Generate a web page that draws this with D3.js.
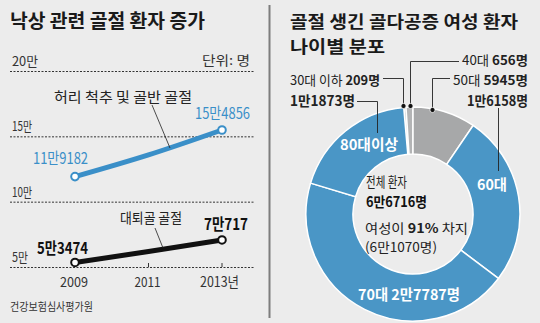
<!DOCTYPE html>
<html><head><meta charset="utf-8">
<script src="https://cdn.jsdelivr.net/npm/d3@7"></script>
<style>
html,body{margin:0;padding:0;background:#ececec;}
svg{display:block;}
text{font-family:"Noto Sans CJK KR","Noto Sans",sans-serif;}
</style></head>
<body>
<script>
// ---- data ----
const years = [2009, 2011, 2013];
const spineValues = [119182, 135800, 154856];   // 허리 척추 및 골반 골절
const femurValues = [53474, 61800, 70717];      // 대퇴골 골절
const yTicks = [200000, 150000, 100000, 50000];
const yTickLabels = ["20만", "15만", "10만", "5만"];
const xTickLabels = ["2009", "2011", "2013년"];

const ageGroups = ["30대 이하", "40대", "50대", "60대", "70대", "80대이상"];
const ageValues = [209, 656, 5945, 16158, 27787, 11873];

const W = 540, H = 323;
const svg = d3.select("body").append("svg").attr("width", W).attr("height", H);
svg.append("rect").attr("width", W).attr("height", H).attr("fill", "#ececec");

function txt(x, y, parts, o = {}) {
  const t = svg.append("text").attr("x", x).attr("y", y)
    .attr("font-size", o.size || 13)
    .attr("fill", o.color || "#222")
    .attr("text-anchor", o.anchor || "start")
    .attr("font-weight", o.weight || 400);
  if (typeof parts === "string") parts = [[parts, o.weight || 400]];
  parts.forEach(p => t.append("tspan").text(p[0]).attr("font-weight", p[1]));
  if (o.width) t.attr("textLength", o.width).attr("lengthAdjust", "spacingAndGlyphs");
  return t;
}

// divider
svg.append("line").attr("x1", 269.5).attr("x2", 269.5).attr("y1", 5).attr("y2", 318)
  .attr("stroke", "#7d7d7d").attr("stroke-width", 2);

// ---- left: line chart ----
const x = d3.scaleLinear().domain([2009, 2013]).range([75, 222]);
const y = d3.scaleLinear().domain([50000, 200000]).range([267, 71]);

txt(10, 28, "낙상 관련 골절 환자 증가", {size: 19, weight: 700, width: 195, color: "#1a1a1a"});

yTicks.forEach((v, i) => {
  svg.append("line").attr("x1", 10).attr("x2", 255).attr("y1", y(v) + 0.5).attr("y2", y(v) + 0.5)
    .attr("stroke", "#333").attr("stroke-width", 1).attr("stroke-dasharray", "2,1.5");
  const lab = yTickLabels[i];
  txt(12, y(v) - 5, lab, {size: 13, width: lab.length === 2 ? 16 : (lab.startsWith("1") ? 20 : 26), color: "#333"});
});
txt(250, 65, "단위: 명", {size: 13, anchor: "end", width: 48, color: "#333"});

// year ticks
years.forEach((yr, i) => {
  if (i > 0) svg.append("line").attr("x1", x(yr)).attr("x2", x(yr)).attr("y1", y(50000) - 4).attr("y2", y(50000))
    .attr("stroke", "#333").attr("stroke-width", 1);
});
txt(x(2009) - 1, 287, xTickLabels[0], {size: 14, anchor: "middle", width: 28, color: "#333"});
txt(x(2011) - 1, 287, xTickLabels[1], {size: 14, anchor: "middle", width: 26, color: "#333"});
txt(200, 287, xTickLabels[2], {size: 14, width: 39, color: "#333"});

const line = d3.line().x((d, i) => x(years[i])).y(d => y(d)).curve(d3.curveMonotoneX);
const blue = "#3a8fc8";
svg.append("path").attr("d", line(spineValues)).attr("fill", "none").attr("stroke", blue)
  .attr("stroke-width", 5).attr("stroke-linecap", "round");
svg.append("path").attr("d", line(femurValues)).attr("fill", "none").attr("stroke", "#111")
  .attr("stroke-width", 5).attr("stroke-linecap", "round");
[[spineValues, blue], [femurValues, "#111"]].forEach(([vals, c]) => {
  [0, vals.length - 1].forEach(i => {
    svg.append("circle").attr("cx", x(years[i])).attr("cy", y(vals[i])).attr("r", 3.8)
      .attr("fill", "#fff").attr("stroke", c).attr("stroke-width", 2);
  });
});

// annotations
txt(54, 102, "허리 척추 및 골반 골절", {size: 14, width: 138, color: "#222"});
svg.append("line").attr("x1", 152).attr("y1", 105).attr("x2", 170).attr("y2", 148).attr("stroke", "#222").attr("stroke-width", 0.8);
txt(120, 223, "대퇴골 골절", {size: 14, width: 62, color: "#222"});
svg.append("line").attr("x1", 155).attr("y1", 228).attr("x2", 163).attr("y2", 248).attr("stroke", "#222").attr("stroke-width", 0.8);

txt(33, 164, "11만9182", {size: 16, width: 55, color: blue});
txt(195, 119, "15만4856", {size: 16, width: 55, color: blue});
txt(37, 254, "5만3474", {size: 16, weight: 700, width: 51, color: "#111"});
txt(204, 230, "7만717", {size: 16, weight: 700, width: 44, color: "#111"});

txt(10, 311, "건강보험심사평가원", {size: 11, width: 83, color: "#333"});

// ---- right: donut ----
txt(290, 28, "골절 생긴 골다공증 여성 환자", {size: 17, weight: 700, width: 228, color: "#1a1a1a"});
txt(290, 53, "나이별 분포", {size: 17, weight: 700, width: 95, color: "#1a1a1a"});

const cx = 413, cy = 214, R = 107, r0 = 60;
const total = d3.sum(ageValues);
const offset = (ageValues[0] + ageValues[1]) / total * 2 * Math.PI;
const pie = d3.pie().sort(null).value(d => d).startAngle(-offset).endAngle(2 * Math.PI - offset);
const arc = d3.arc().innerRadius(r0).outerRadius(R);
const colors = ["#b3b4b5", "#b3b4b5", "#a7a8a9", "#4a96c6", "#4a96c6", "#4a96c6"];
const g = svg.append("g").attr("transform", `translate(${cx},${cy})`);
g.selectAll("path").data(pie(ageValues)).join("path")
  .attr("d", arc).attr("fill", (d, i) => colors[i])
  .attr("stroke", "#fff").attr("stroke-width", 1.5);

// callouts
const callStroke = {stroke: "#222", "stroke-width": 0.9, fill: "none"};
function poly(pts) {
  const p = svg.append("path").attr("d", d3.line()(pts));
  Object.entries(callStroke).forEach(([k, v]) => p.attr(k, v));
}
function dot(px, py) {
  svg.append("circle").attr("cx", px).attr("cy", py).attr("r", 2.6).attr("fill", "#111").attr("stroke", "#fff").attr("stroke-width", 0.8);
}
poly([[383, 78.5], [403.5, 78.5], [403.5, 106]]); dot(403.5, 106);
poly([[459, 61.5], [410.5, 61.5], [410.5, 106]]); dot(410.5, 106);
poly([[450, 78.5], [432.5, 78.5], [432.5, 110]]); dot(432.5, 110);
poly([[498.5, 108], [498.5, 171]]);
poly([[357, 101.5], [377.5, 101.5], [377.5, 133]]);

txt(380, 85, [["30대 이하 ", 400], [String(ageValues[0]) + "명", 700]], {size: 13, anchor: "end", width: 90, color: "#222"});
txt(462, 65, [["40대 ", 400], [String(ageValues[1]) + "명", 700]], {size: 13, width: 66, color: "#222"});
txt(453, 85, [["50대 ", 400], [String(ageValues[2]) + "명", 700]], {size: 13, width: 75, color: "#222"});
txt(467, 106, "1만6158명", {size: 14, weight: 700, width: 61, color: "#222"});
txt(290, 106, "1만1873명", {size: 14, weight: 700, width: 65, color: "#222"});

txt(369, 150, ageGroups[5], {size: 15, weight: 700, anchor: "middle", width: 58, color: "#fff"});
txt(492, 190, ageGroups[3], {size: 15, weight: 700, anchor: "middle", width: 30, color: "#fff"});
txt(409, 300, "70대 2만7787명", {size: 15, weight: 700, anchor: "middle", width: 102, color: "#fff"});

txt(366, 187, "전체 환자", {size: 14, width: 41, color: "#222"});
txt(366, 207, "6만6716명", {size: 14, weight: 700, width: 61, color: "#111"});
txt(365, 233, [["여성이 ", 400], ["91%", 700], [" 차지", 400]], {size: 13, width: 103, color: "#222"});
txt(365, 252, "(6만1070명)", {size: 13, width: 72, color: "#222"});
</script>
</body></html>
